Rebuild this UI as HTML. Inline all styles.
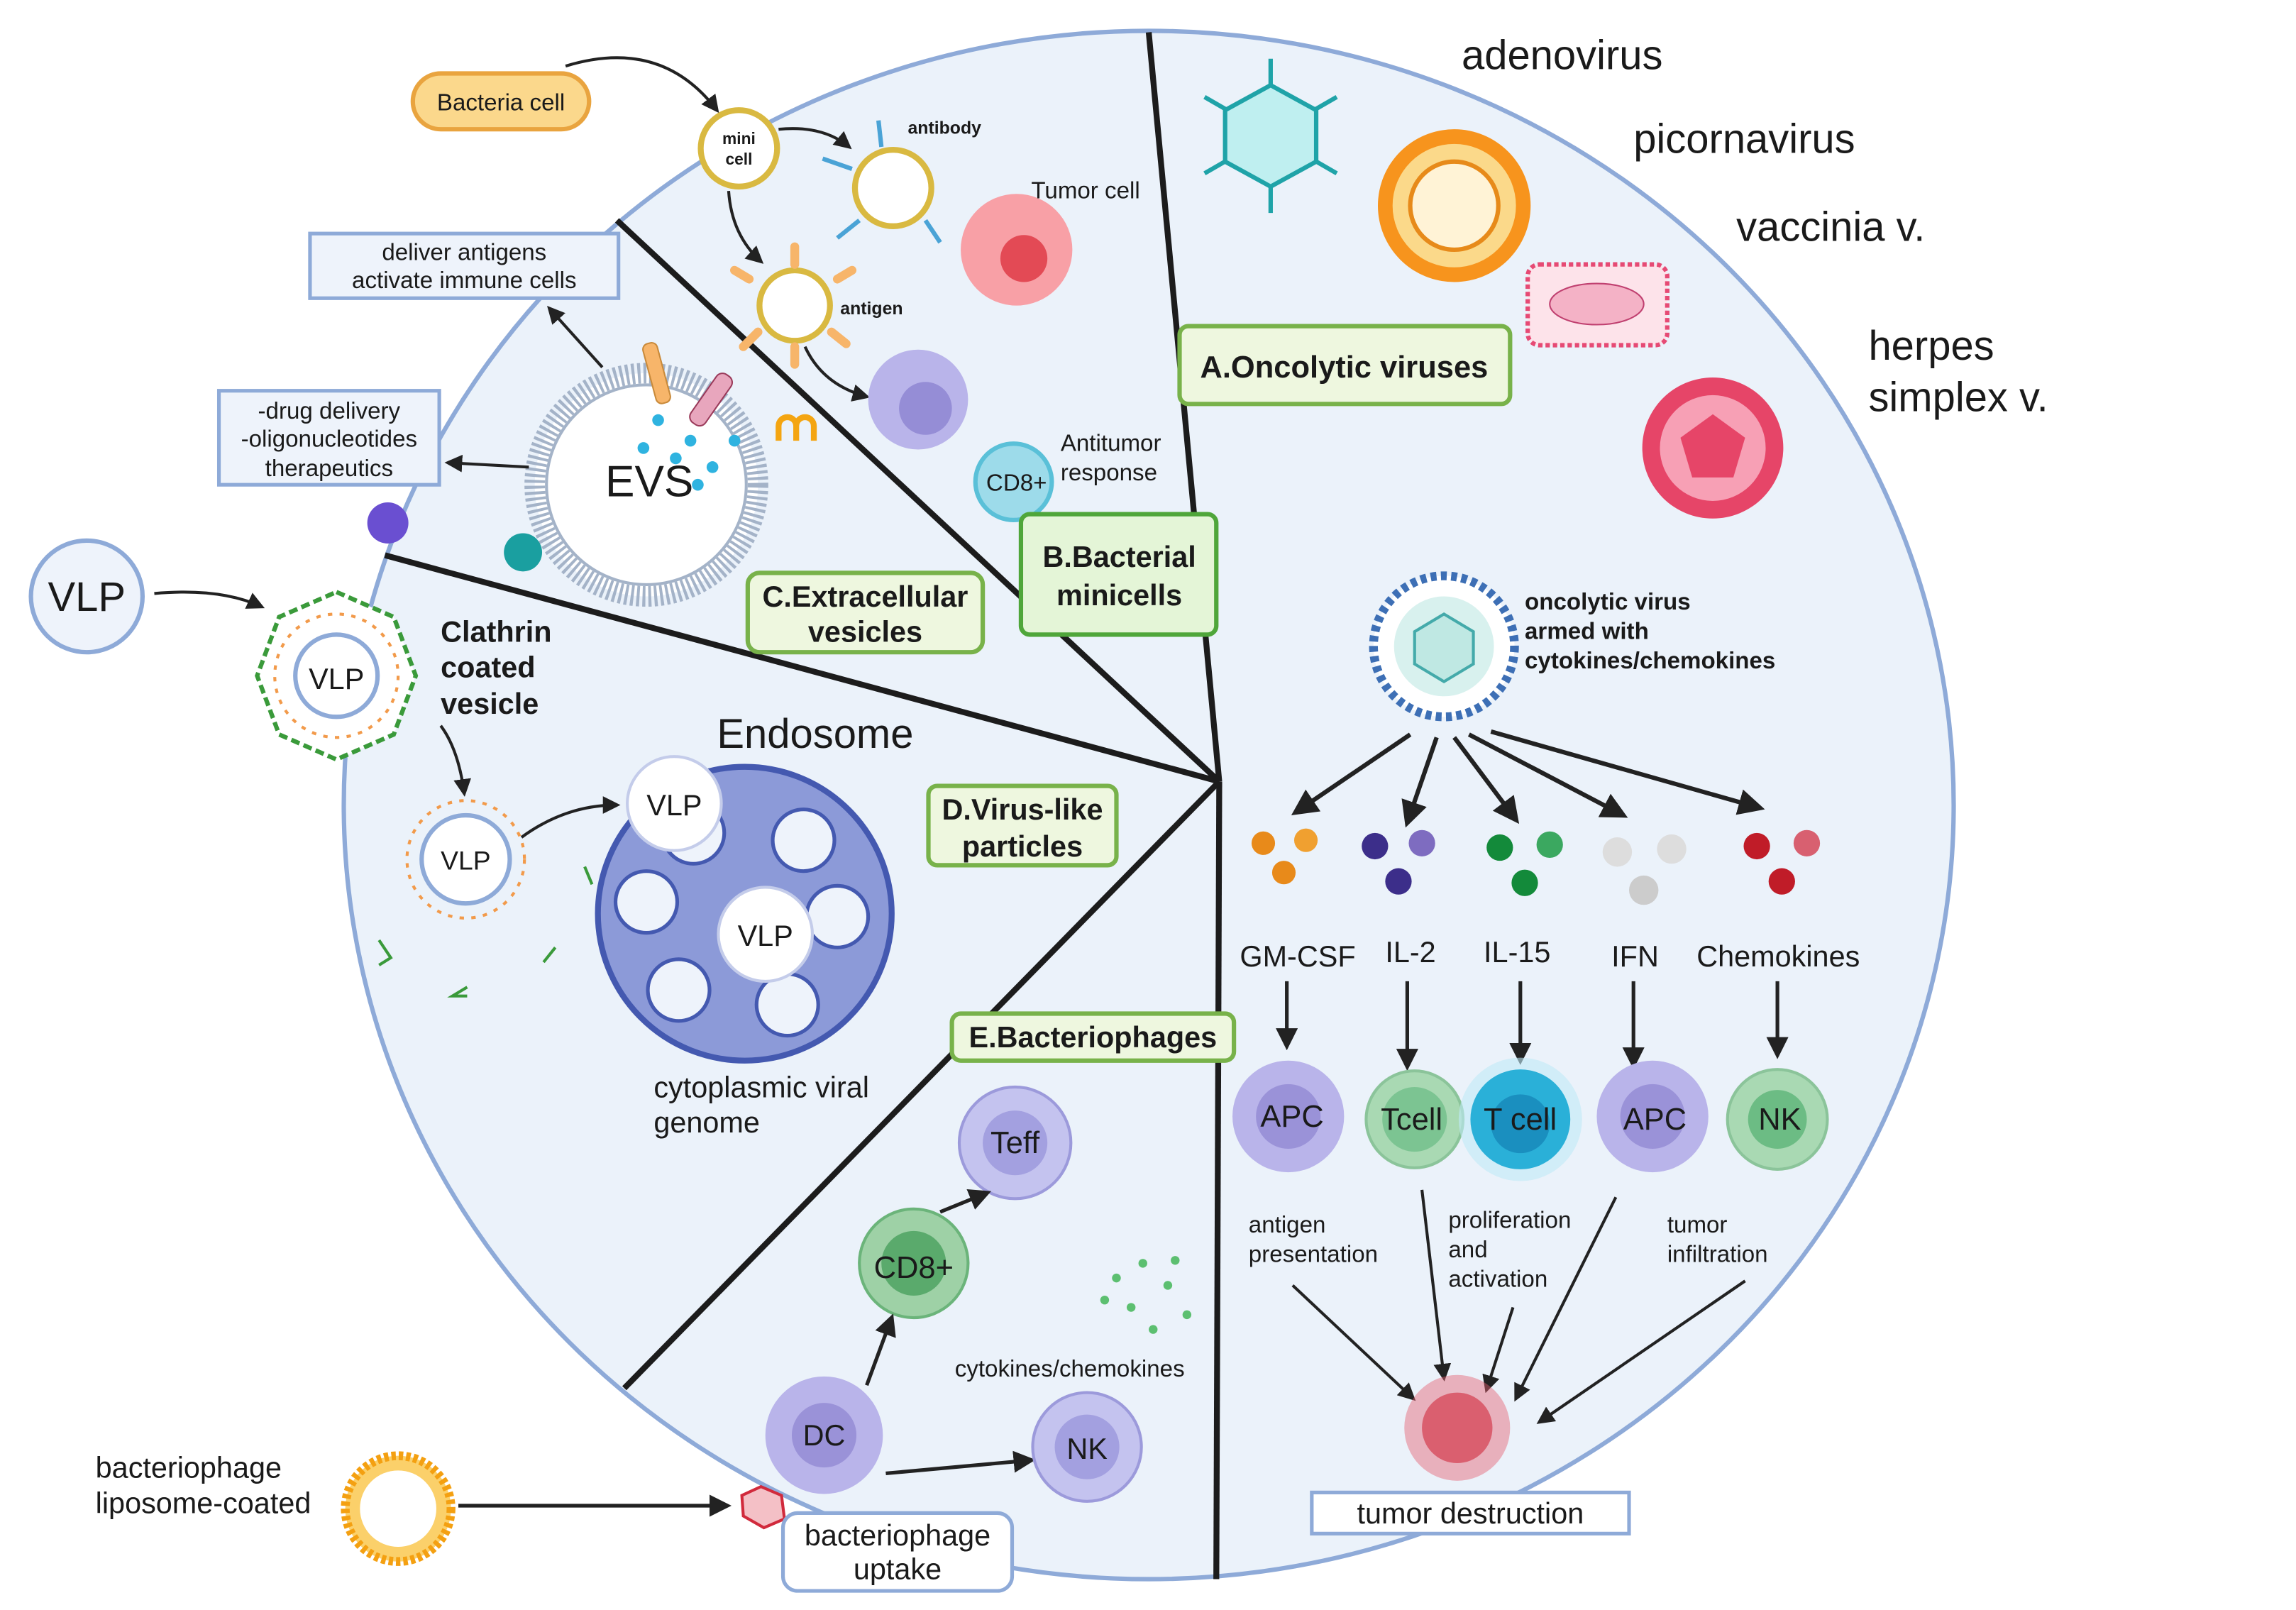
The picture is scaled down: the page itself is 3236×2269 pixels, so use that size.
<!DOCTYPE html>
<html><head><meta charset="utf-8"><style>
html,body{margin:0;padding:0;background:#fff}
svg{display:block}
text{font-family:"Liberation Sans",sans-serif;fill:#1a1a1a}
.b{font-weight:bold}
</style></head><body>
<svg width="3236" height="2269" viewBox="0 0 1563 1096" xmlns="http://www.w3.org/2000/svg">
<defs>
<marker id="ar" viewBox="0 0 10 10" refX="8" refY="5" markerWidth="6" markerHeight="6" orient="auto"><path d="M0,0L10,5L0,10z" fill="#222"/></marker>
</defs>
<rect width="1563" height="1096" fill="#fff"/>
<ellipse cx="782" cy="548" rx="548" ry="527" fill="#ebf2fa" stroke="#8eaad8" stroke-width="3"/>
<!-- radial lines -->
<g stroke="#1c1c1c" stroke-width="4" fill="none">
<line x1="830" y1="532" x2="782" y2="22"/>
<line x1="830" y1="532" x2="420" y2="150"/>
<line x1="830" y1="532" x2="262" y2="378"/>
<line x1="830" y1="532" x2="425" y2="945"/>
<line x1="830" y1="532" x2="828" y2="1075"/>
</g>
<!-- A oncolytic viruses -->
<text x="995" y="47" font-size="28">adenovirus</text>
<text x="1112" y="104" font-size="28">picornavirus</text>
<text x="1182" y="164" font-size="28">vaccinia v.</text>
<text x="1272" y="245" font-size="28">herpes</text>
<text x="1272" y="280" font-size="28">simplex v.</text>
<g stroke="#1fa3a8" stroke-width="3"><line x1="865" y1="40" x2="865" y2="145"/><line x1="820" y1="66" x2="910" y2="118"/><line x1="910" y1="66" x2="820" y2="118"/></g>
<polygon points="865,58 896,75 896,110 865,127 834,110 834,75" fill="#bfeff0" stroke="#1fa3a8" stroke-width="3"/>
<circle cx="990" cy="140" r="52" fill="#f7941d"/><circle cx="990" cy="140" r="42" fill="#fbd98a"/><circle cx="990" cy="140" r="30" fill="#fff3d6" stroke="#e78a1a" stroke-width="3"/>
<rect x="1040" y="180" width="95" height="55" rx="8" fill="#fde3ea" stroke="#e64a74" stroke-width="3" stroke-dasharray="3 2"/><ellipse cx="1087" cy="207" rx="32" ry="14" fill="#f4b2c6" stroke="#c04070"/>
<circle cx="1166" cy="305" r="48" fill="#e64568"/><circle cx="1166" cy="305" r="36" fill="#f7a0b5"/><polygon points="1166,282 1188,298 1180,325 1152,325 1144,298" fill="#e64568"/>
<rect x="803" y="222" width="225" height="53" rx="6" fill="#eef7df" stroke="#78b24a" stroke-width="3"/>
<text x="915" y="257" font-size="21" class="b" text-anchor="middle">A.Oncolytic viruses</text>
<!-- armed virus -->
<circle cx="983" cy="440" r="48" fill="#fff" stroke="#3d6fb5" stroke-width="6" stroke-dasharray="4 3"/><circle cx="983" cy="440" r="34" fill="#d8f1ee"/><polygon points="983,418 1003,430 1003,452 983,464 963,452 963,430" fill="#bfe8e3" stroke="#4aa" stroke-width="2"/>
<text x="1038" y="415" font-size="16" class="b">oncolytic virus</text>
<text x="1038" y="435" font-size="16" class="b">armed with</text>
<text x="1038" y="455" font-size="16" class="b">cytokines/chemokines</text>
<g stroke="#222" stroke-width="3" marker-end="url(#ar)">
<line x1="960" y1="500" x2="882" y2="553"/><line x1="978" y1="502" x2="958" y2="560"/><line x1="990" y1="502" x2="1032" y2="558"/><line x1="1000" y1="500" x2="1105" y2="555"/><line x1="1015" y1="498" x2="1198" y2="550"/>
</g>
<g><circle cx="860" cy="574" r="8" fill="#e88a1a"/><circle cx="889" cy="572" r="8" fill="#f0a030"/><circle cx="874" cy="594" r="8" fill="#e88a1a"/>
<circle cx="936" cy="576" r="9" fill="#3c2e8a"/><circle cx="968" cy="574" r="9" fill="#7e6cc0"/><circle cx="952" cy="600" r="9" fill="#3c2e8a"/>
<circle cx="1021" cy="577" r="9" fill="#138a3a"/><circle cx="1055" cy="575" r="9" fill="#3ba860"/><circle cx="1038" cy="601" r="9" fill="#138a3a"/>
<circle cx="1101" cy="580" r="10" fill="#ddd"/><circle cx="1138" cy="578" r="10" fill="#ddd"/><circle cx="1119" cy="606" r="10" fill="#ccc"/>
<circle cx="1196" cy="576" r="9" fill="#c01c28"/><circle cx="1230" cy="574" r="9" fill="#d86070"/><circle cx="1213" cy="600" r="9" fill="#c01c28"/></g>
<g font-size="20"><text x="844" y="658">GM-CSF</text><text x="943" y="655">IL-2</text><text x="1010" y="655">IL-15</text><text x="1097" y="658">IFN</text><text x="1155" y="658">Chemokines</text></g>
<g stroke="#222" stroke-width="2.5" marker-end="url(#ar)">
<line x1="876" y1="668" x2="876" y2="712"/><line x1="958" y1="668" x2="958" y2="726"/><line x1="1035" y1="668" x2="1035" y2="722"/><line x1="1112" y1="668" x2="1112" y2="725"/><line x1="1210" y1="668" x2="1210" y2="718"/>
</g>
<circle cx="877" cy="760" r="38" fill="#b9b4ea"/><circle cx="877" cy="760" r="22" fill="#9a92d8"/>
<circle cx="963" cy="762" r="33" fill="#a9d9b3" stroke="#8bc49a" stroke-width="2"/><circle cx="963" cy="762" r="22" fill="#7cc492"/>
<circle cx="1035" cy="762" r="42" fill="#bfeaf7" opacity=".6"/><circle cx="1035" cy="762" r="34" fill="#2ab0d8"/><circle cx="1035" cy="765" r="20" fill="#1a8fbf"/>
<circle cx="1125" cy="760" r="38" fill="#b9b4ea"/><circle cx="1125" cy="760" r="22" fill="#9a92d8"/>
<circle cx="1210" cy="762" r="34" fill="#a9d9b3" stroke="#8bc49a" stroke-width="2"/><circle cx="1210" cy="762" r="20" fill="#6cbc84"/>
<g font-size="21"><text x="858" y="767">APC</text><text x="940" y="769">Tcell</text><text x="1010" y="769">T cell</text><text x="1105" y="769">APC</text><text x="1197" y="769">NK</text></g>
<g font-size="16"><text x="850" y="839">antigen</text><text x="850" y="859">presentation</text><text x="986" y="836">proliferation</text><text x="986" y="856">and</text><text x="986" y="876">activation</text><text x="1135" y="839">tumor</text><text x="1135" y="859">infiltration</text></g>
<g stroke="#222" stroke-width="2" marker-end="url(#ar)">
<line x1="880" y1="875" x2="962" y2="952"/><line x1="968" y1="810" x2="983" y2="938"/><line x1="1030" y1="890" x2="1012" y2="946"/><line x1="1100" y1="815" x2="1032" y2="952"/><line x1="1188" y1="872" x2="1048" y2="968"/>
</g>
<circle cx="992" cy="972" r="36" fill="#e46070" opacity=".45"/><circle cx="992" cy="972" r="24" fill="#d12a3c" opacity=".6"/>
<rect x="893" y="1016" width="216" height="28" fill="#fff" stroke="#8eaad8" stroke-width="2.5"/>
<text x="1001" y="1037" font-size="20" text-anchor="middle">tumor destruction</text>
<!-- B bacterial minicells -->
<rect x="281" y="50" width="120" height="38" rx="19" fill="#fbd88c" stroke="#e9a43f" stroke-width="3"/>
<text x="341" y="75" font-size="16" text-anchor="middle">Bacteria cell</text>
<path d="M385,45 Q450,25 488,75" fill="none" stroke="#222" stroke-width="2" marker-end="url(#ar)"/>
<circle cx="503" cy="101" r="26" fill="#fff" stroke="#d9b941" stroke-width="4"/>
<text x="503" y="98" font-size="11" class="b" text-anchor="middle">mini</text><text x="503" y="112" font-size="11" class="b" text-anchor="middle">cell</text>
<path d="M530,88 Q560,85 578,100" fill="none" stroke="#222" stroke-width="2" marker-end="url(#ar)"/>
<path d="M496,130 Q498,160 518,178" fill="none" stroke="#222" stroke-width="2" marker-end="url(#ar)"/>
<circle cx="608" cy="128" r="26" fill="#fff" stroke="#d9b941" stroke-width="4"/>
<g stroke="#4aa3d6" stroke-width="3"><line x1="580" y1="115" x2="560" y2="108"/><line x1="585" y1="150" x2="570" y2="162"/><line x1="630" y1="150" x2="640" y2="165"/><line x1="600" y1="100" x2="598" y2="82"/></g>
<text x="618" y="91" font-size="12" class="b">antibody</text>
<circle cx="692" cy="170" r="38" fill="#f8a0a6"/><circle cx="697" cy="176" r="16" fill="#e34a55"/>
<text x="702" y="135" font-size="16">Tumor cell</text>
<circle cx="541" cy="208" r="24" fill="#fff" stroke="#d9b941" stroke-width="4"/>
<g stroke="#f7b56a" stroke-width="6" stroke-linecap="round"><line x1="510" y1="190" x2="500" y2="184"/><line x1="570" y1="190" x2="580" y2="184"/><line x1="516" y1="226" x2="506" y2="236"/><line x1="566" y1="226" x2="576" y2="234"/><line x1="541" y1="236" x2="541" y2="248"/><line x1="541" y1="180" x2="541" y2="168"/></g>
<text x="572" y="214" font-size="12" class="b">antigen</text>
<path d="M548,236 Q560,262 590,270" fill="none" stroke="#222" stroke-width="2" marker-end="url(#ar)"/>
<circle cx="625" cy="272" r="34" fill="#b9b4ea"/><circle cx="630" cy="278" r="18" fill="#958dd6"/>
<circle cx="690" cy="328" r="26" fill="#9ddbea" stroke="#5ac0d8" stroke-width="3"/>
<text x="692" y="334" font-size="16" text-anchor="middle">CD8+</text>
<text x="722" y="307" font-size="16">Antitumor</text><text x="722" y="327" font-size="16">response</text>
<rect x="695" y="350" width="133" height="82" rx="6" fill="#e4f5d7" stroke="#4fa63a" stroke-width="3"/>
<text x="762" y="386" font-size="20" class="b" text-anchor="middle">B.Bacterial</text>
<text x="762" y="412" font-size="20" class="b" text-anchor="middle">minicells</text>
<!-- C EVs -->
<rect x="211" y="159" width="210" height="44" fill="#eef3fb" stroke="#8eaad8" stroke-width="2.5"/>
<text x="316" y="177" font-size="16" text-anchor="middle">deliver antigens</text><text x="316" y="196" font-size="16" text-anchor="middle">activate immune cells</text>
<rect x="149" y="266" width="150" height="64" fill="#eef3fb" stroke="#8eaad8" stroke-width="2.5"/>
<text x="224" y="285" font-size="16" text-anchor="middle">-drug delivery</text><text x="224" y="304" font-size="16" text-anchor="middle">-oligonucleotides</text><text x="224" y="324" font-size="16" text-anchor="middle">therapeutics</text>
<circle cx="440" cy="330" r="76" fill="#fff" stroke="#a4b3c8" stroke-width="14" stroke-dasharray="2 2"/>
<circle cx="440" cy="330" r="68" fill="#fff" stroke="#a4b3c8" stroke-width="2"/>
<text x="412" y="338" font-size="30">EVS</text>
<g fill="#2fb3e0"><circle cx="448" cy="286" r="4"/><circle cx="470" cy="300" r="4"/><circle cx="438" cy="305" r="4"/><circle cx="485" cy="318" r="4"/><circle cx="460" cy="312" r="4"/><circle cx="500" cy="300" r="4"/><circle cx="475" cy="330" r="4"/></g>
<rect x="442" y="233" width="10" height="42" rx="4" fill="#f7b56a" stroke="#c98a3a" transform="rotate(-15 447 254)"/>
<rect x="478" y="252" width="12" height="40" rx="5" fill="#e8a6bd" stroke="#9a3a5a" transform="rotate(35 484 272)"/>
<path d="M530,300 v-10 a6,6 0 0 1 12,0 v10 M542,300 v-10 a6,6 0 0 1 12,0 v10" fill="none" stroke="#f4a511" stroke-width="4"/>
<line x1="410" y1="250" x2="374" y2="210" stroke="#222" stroke-width="2" marker-end="url(#ar)"/>
<line x1="360" y1="318" x2="305" y2="315" stroke="#222" stroke-width="2" marker-end="url(#ar)"/>
<circle cx="264" cy="356" r="14" fill="#6a4fd1"/><circle cx="356" cy="376" r="13" fill="#1a9fa0"/>
<rect x="509" y="390" width="160" height="54" rx="8" fill="#eef7df" stroke="#78b24a" stroke-width="3"/>
<text x="589" y="413" font-size="20" class="b" text-anchor="middle">C.Extracellular</text><text x="589" y="437" font-size="20" class="b" text-anchor="middle">vesicles</text>
<!-- D VLP -->
<circle cx="59" cy="406" r="38" fill="#eef3fb" stroke="#8eaad8" stroke-width="3"/>
<text x="59" y="416" font-size="28" text-anchor="middle">VLP</text>
<path d="M105,404 Q150,400 178,413" fill="none" stroke="#222" stroke-width="2" marker-end="url(#ar)"/>
<polygon points="229,403 268,420 283,460 268,500 229,517 190,500 175,460 190,420" fill="#fff" stroke="#3a9a3a" stroke-width="3" stroke-dasharray="6 3"/>
<circle cx="229" cy="460" r="42" fill="#fff" stroke="#f29a4a" stroke-width="2" stroke-dasharray="3 5"/>
<circle cx="229" cy="460" r="28" fill="#fff" stroke="#8eaad8" stroke-width="3"/>
<text x="229" y="469" font-size="20" text-anchor="middle">VLP</text>
<text x="300" y="437" font-size="20" class="b">Clathrin</text><text x="300" y="461" font-size="20" class="b">coated</text><text x="300" y="486" font-size="20" class="b">vesicle</text>
<path d="M300,494 Q312,510 316,540" fill="none" stroke="#222" stroke-width="2" marker-end="url(#ar)"/>
<circle cx="317" cy="585" r="40" fill="none" stroke="#f29a4a" stroke-width="2" stroke-dasharray="3 5"/>
<circle cx="317" cy="585" r="30" fill="#fff" stroke="#8eaad8" stroke-width="3"/>
<text x="317" y="592" font-size="18" text-anchor="middle">VLP</text>
<path d="M355,570 Q385,548 420,548" fill="none" stroke="#222" stroke-width="2" marker-end="url(#ar)"/>
<g stroke="#3a9a3a" stroke-width="2" fill="none"><path d="M258,640 l8,12 l-8,5"/><path d="M318,672 l-10,6 h10"/><path d="M370,655 l8,-10"/><path d="M398,590 l5,12"/></g>
<circle cx="507" cy="622" r="100" fill="#8c9ad8" stroke="#4459b0" stroke-width="4"/>
<g fill="#eef3fb" stroke="#4459b0" stroke-width="2.5"><circle cx="547" cy="572" r="21"/><circle cx="440" cy="614" r="21"/><circle cx="570" cy="624" r="21"/><circle cx="462" cy="674" r="21"/><circle cx="536" cy="684" r="21"/><circle cx="472" cy="567" r="21"/></g>
<circle cx="459" cy="547" r="32" fill="#fff" stroke="#c4ccea" stroke-width="2"/><text x="459" y="555" font-size="20" text-anchor="middle">VLP</text>
<circle cx="521" cy="636" r="32" fill="#fff" stroke="#c4ccea" stroke-width="2"/><text x="521" y="644" font-size="20" text-anchor="middle">VLP</text>
<text x="488" y="509" font-size="28">Endosome</text>
<text x="445" y="747" font-size="20">cytoplasmic viral</text><text x="445" y="771" font-size="20">genome</text>
<rect x="632" y="535" width="128" height="54" rx="6" fill="#eef7df" stroke="#78b24a" stroke-width="3"/>
<text x="696" y="558" font-size="20" class="b" text-anchor="middle">D.Virus-like</text><text x="696" y="583" font-size="20" class="b" text-anchor="middle">particles</text>
<!-- E bacteriophages -->
<rect x="648" y="690" width="192" height="32" rx="6" fill="#eef7df" stroke="#78b24a" stroke-width="3"/>
<text x="744" y="713" font-size="20" class="b" text-anchor="middle">E.Bacteriophages</text>
<circle cx="691" cy="778" r="38" fill="#c4c3ef" stroke="#9c9adb" stroke-width="2"/><circle cx="691" cy="778" r="22" fill="#a3a0e0"/>
<text x="691" y="785" font-size="21" text-anchor="middle">Teff</text>
<circle cx="622" cy="860" r="37" fill="#9ed1a6" stroke="#6bb47a" stroke-width="2"/><circle cx="622" cy="860" r="22" fill="#5aaa6c"/>
<text x="622" y="870" font-size="21" text-anchor="middle">CD8+</text>
<line x1="640" y1="825" x2="672" y2="812" stroke="#222" stroke-width="2.5" marker-end="url(#ar)"/>
<g fill="#5cbf70"><circle cx="760" cy="870" r="3"/><circle cx="778" cy="860" r="3"/><circle cx="795" cy="875" r="3"/><circle cx="770" cy="890" r="3"/><circle cx="808" cy="895" r="3"/><circle cx="785" cy="905" r="3"/><circle cx="752" cy="885" r="3"/><circle cx="800" cy="858" r="3"/></g>
<text x="650" y="937" font-size="16">cytokines/chemokines</text>
<circle cx="561" cy="977" r="40" fill="#b9b4ea"/><circle cx="561" cy="977" r="22" fill="#9a92d8"/>
<text x="561" y="984" font-size="20" text-anchor="middle">DC</text>
<line x1="590" y1="943" x2="607" y2="897" stroke="#222" stroke-width="2.5" marker-end="url(#ar)"/>
<line x1="603" y1="1003" x2="702" y2="994" stroke="#222" stroke-width="2.5" marker-end="url(#ar)"/>
<circle cx="740" cy="985" r="37" fill="#c4c3ef" stroke="#9c9adb" stroke-width="2"/><circle cx="740" cy="985" r="22" fill="#a3a0e0"/>
<text x="740" y="993" font-size="20" text-anchor="middle">NK</text>
<text x="65" y="1006" font-size="20">bacteriophage</text><text x="65" y="1030" font-size="20">liposome-coated</text>
<circle cx="271" cy="1027" r="36" fill="#fbd06a" stroke="#f4a011" stroke-width="6" stroke-dasharray="3 2"/><circle cx="271" cy="1027" r="26" fill="#fff"/>
<line x1="312" y1="1025" x2="495" y2="1025" stroke="#222" stroke-width="2.5" marker-end="url(#ar)"/>
<polygon points="518,1012 532,1018 534,1034 520,1040 506,1032 505,1018" fill="#f4c0c6" stroke="#d12a3c" stroke-width="2"/>
<rect x="533" y="1030" width="156" height="53" rx="10" fill="#fff" stroke="#8eaad8" stroke-width="2.5"/>
<text x="611" y="1052" font-size="20" text-anchor="middle">bacteriophage</text><text x="611" y="1075" font-size="20" text-anchor="middle">uptake</text>
</svg>
</body></html>
